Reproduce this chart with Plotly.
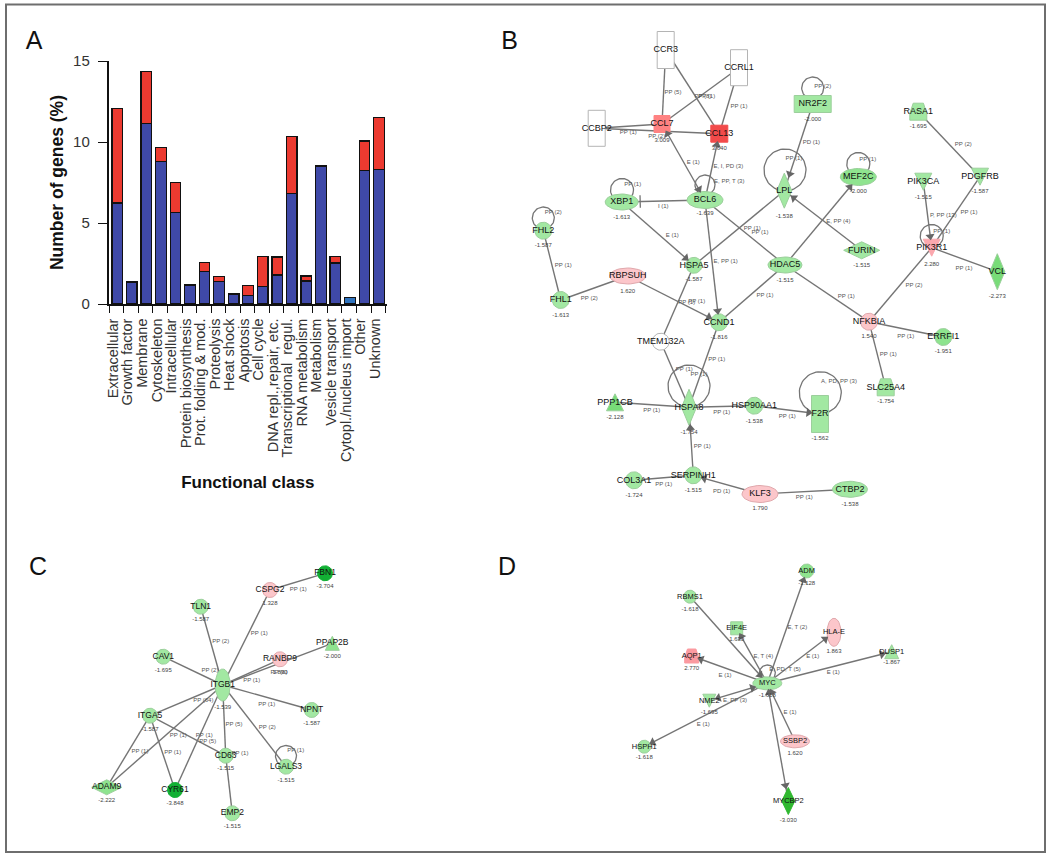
import math
import plotly.graph_objects as go

# ---------- Panel A data ----------
CLASSES = ["Extracellular", "Growth factor", "Membrane", "Cytoskeleton", "Intracellular",
           "Protein biosynthesis", "Prot. folding & mod.", "Proteolysis", "Heat shock", "Apoptosis",
           "Cell cycle", "DNA repl.,repair, etc.", "Transcriptional  regul.", "RNA metabolism",
           "Metabolism", "Vesicle transport", "Cytopl./nucleus import", "Other", "Unknown"]
LOWER_PART = [6.24, 1.36, 11.13, 8.80, 5.65, 1.17, 2.00, 1.38, 0.62, 0.54,
              1.09, 1.79, 6.82, 1.42, 8.51, 2.53, 0.41, 8.24, 8.30]
UPPER_PART = [5.83, 0, 3.21, 0.88, 1.85, 0, 0.58, 0.33, 0, 0.61,
              1.86, 1.12, 3.54, 0.31, 0, 0.42, 0, 1.82, 3.20]

# ---------- Network data: node names and their printed values ----------
B_VALUES = {"CCR3": "", "CCRL1": "", "CCBP2": "", "CCL7": "3.009", "CCL13": "3.640", "XBP1": "-1.613",
            "BCL6": "-1.639", "FHL2": "-1.587", "HSPA5": "-1.587", "LPL": "-1.538", "NR2F2": "-2.000",
            "MEF2C": "-2.000", "RASA1": "-1.695", "PDGFRB": "-1.587", "PIK3CA": "-1.515", "PIK3R1": "2.280",
            "VCL": "-2.273", "FURIN": "-1.515", "HDAC5": "-1.515", "NFKBIA": "1.540", "ERRFI1": "-1.951",
            "SLC25A4": "-1.754", "F2R": "-1.562", "HSP90AA1": "-1.538", "HSPA8": "-1.754", "PPP1CB": "-2.128",
            "TMEM132A": "", "CCND1": "-1.816", "FHL1": "-1.613", "RBPSUH": "1.620", "SERPINH1": "-1.515",
            "COL3A1": "-1.724", "KLF3": "1.790", "CTBP2": "-1.538"}
C_VALUES = {"ITGB1": "-1.539", "FBN1": "-3.704", "CSPG2": "1.328", "TLN1": "-1.587", "PPAP2B": "-2.000",
            "RANBP9": "1.890", "CAV1": "-1.695", "NPNT": "-1.587", "ITGA5": "-1.587", "CD63": "-1.515",
            "LGALS3": "-1.515", "ADAM9": "-2.222", "CYR61": "-3.848", "EMP2": "-1.515"}
D_VALUES = {"ADM": "-1.128", "RBMS1": "-1.618", "EIF4E": "1.630", "HLA-E": "1.863", "AQP1": "2.770",
            "DUSP1": "-1.867", "MYC": "-1.618", "NME2": "-1.695", "HSPH1": "-1.618", "SSBP2": "1.620",
            "MYCBP2": "-3.030"}

# Edges: (from, to, arrowhead: "" none, "b" at to, "a" at from, "ab" both, "i" inhibition at to)
B_EDGES = [("CCR3", "CCL7", ""), ("CCR3", "CCL13", ""), ("CCRL1", "CCL7", ""), ("CCRL1", "CCL13", ""),
           ("CCBP2", "CCL7", ""), ("CCBP2", "CCL13", ""), ("BCL6", "CCL7", "ab"), ("BCL6", "CCL13", "b"),
           ("BCL6", "XBP1", "i"), ("XBP1", "HSPA5", "b"), ("BCL6", "CCND1", "b"), ("HSPA5", "LPL", ""),
           ("BCL6", "HDAC5", ""), ("FHL2", "FHL1", ""), ("FHL1", "RBPSUH", ""), ("RBPSUH", "CCND1", "b"),
           ("HSPA5", "TMEM132A", ""), ("HDAC5", "CCND1", ""), ("HDAC5", "NFKBIA", ""), ("HDAC5", "MEF2C", "b"),
           ("FURIN", "LPL", "b"), ("NR2F2", "LPL", "b"), ("RASA1", "PDGFRB", ""), ("PIK3CA", "PIK3R1", "b"),
           ("PDGFRB", "PIK3R1", ""), ("PIK3R1", "VCL", ""), ("PIK3R1", "NFKBIA", ""), ("NFKBIA", "ERRFI1", ""),
           ("NFKBIA", "SLC25A4", ""), ("TMEM132A", "HSPA8", ""), ("CCND1", "HSPA8", ""), ("PPP1CB", "HSPA8", ""),
           ("HSPA8", "HSP90AA1", ""), ("HSP90AA1", "F2R", "b"), ("SERPINH1", "HSPA8", "b"),
           ("COL3A1", "SERPINH1", ""), ("KLF3", "SERPINH1", "b"), ("KLF3", "CTBP2", "")]
C_EDGES = [("CSPG2", "FBN1", ""), ("ITGB1", "CSPG2", ""), ("ITGB1", "TLN1", ""), ("ITGB1", "CAV1", ""),
           ("ITGB1", "RANBP9", ""), ("ITGB1", "PPAP2B", ""), ("ITGB1", "NPNT", ""), ("ITGB1", "LGALS3", ""),
           ("ITGB1", "CD63", ""), ("CD63", "EMP2", ""), ("ITGB1", "ITGA5", ""), ("ITGB1", "ADAM9", ""),
           ("ITGB1", "CYR61", ""), ("ITGA5", "CD63", ""), ("ITGA5", "ADAM9", ""), ("ITGA5", "CYR61", "")]
D_EDGES = [("MYC", "ADM", "b"), ("RBMS1", "MYC", "b"), ("MYC", "EIF4E", "b"), ("MYC", "HLA-E", "b"),
           ("MYC", "DUSP1", "b"), ("MYC", "AQP1", "b"), ("NME2", "MYC", "ab"), ("MYC", "HSPH1", "b"),
           ("SSBP2", "MYC", "b"), ("MYCBP2", "MYC", "ab")]

# ---------- Network drawing: layout (page pixels), shapes and styles ----------
G, P, DG, MG, W = "#a2e8a2", "#fcc6ca", "#12b034", "#78dc78", "#ffffff"
B_LAYOUT = {  # name: x, y, shape, width, height, fill, y of value label
    "CCR3": (665.7, 50, "rect", 17, 37, W, 0), "CCRL1": (739, 67.7, "rect", 17, 36, W, 0),
    "CCBP2": (596.7, 128.3, "rect", 17, 36, W, 0), "CCL7": (662, 124, "rect", 16, 17, "#ff8282", 140),
    "CCL13": (719.3, 133.7, "rect", 17, 17, "#f24a4a", 148.5), "XBP1": (621.7, 202, "ell", 33, 16, G, 217),
    "BCL6": (705, 200, "ell", 36, 17, G, 213.7), "FHL2": (543.3, 230.7, "ell", 17, 17, G, 245.7),
    "HSPA5": (694, 265.3, "ell", 16, 16, G, 279.3), "LPL": (784.3, 190.7, "dia", 15, 35, G, 216),
    "NR2F2": (812.7, 104, "rect", 37, 17, G, 119), "MEF2C": (858.3, 177, "ell", 36, 17, "#8fe48f", 191.7),
    "RASA1": (918.3, 111.7, "trap", 17, 17, G, 126.7), "PDGFRB": (980, 176.7, "inv", 17, 17, G, 191.7),
    "PIK3CA": (923.3, 181.7, "inv", 17, 17, G, 197), "PIK3R1": (931.7, 247.7, "inv", 17, 17, "#fba8ae", 264),
    "VCL": (997.3, 271.7, "dia", 15, 36, MG, 296), "FURIN": (861.7, 250.3, "dia", 36, 17, G, 265.7),
    "HDAC5": (785, 265, "ell", 34, 16, G, 280), "NFKBIA": (869, 321.7, "ell", 17, 17, P, 336),
    "ERRFI1": (943.3, 337, "ell", 17, 17, "#8ee48e", 351.7), "SLC25A4": (885.7, 387.3, "trap", 17, 17, G, 401.7),
    "F2R": (820, 414, "rect", 17, 37, G, 438.7), "HSP90AA1": (754.3, 405.7, "ell", 17, 17, G, 421),
    "HSPA8": (689, 407.3, "dia", 15, 36, G, 432.3), "PPP1CB": (615, 402.3, "tri", 17, 17, MG, 417),
    "TMEM132A": (660.7, 341.7, "ell", 17, 17, W, 0), "CCND1": (719, 322.3, "ell", 17, 17, G, 337.7),
    "FHL1": (560.7, 300, "ell", 17, 17, G, 315), "RBPSUH": (627.7, 276, "ell", 36, 16, P, 291.3),
    "SERPINH1": (693.3, 475.3, "ell", 17, 17, G, 490.7), "COL3A1": (634, 480.3, "ell", 17, 17, G, 495.7),
    "KLF3": (760, 494, "ell", 36, 17, P, 508.7), "CTBP2": (850, 489.3, "ell", 35, 16, G, 504.3)}
C_LAYOUT = {
    "ITGB1": (222.7, 685, "ell", 15, 32, G, 707.3), "FBN1": (325, 573.3, "ell", 15, 15, DG, 586),
    "CSPG2": (270, 590, "ell", 15, 15, P, 603.3), "TLN1": (200.7, 606.7, "ell", 15, 15, G, 619),
    "PPAP2B": (332.3, 643.3, "tri", 14, 14, "#8ee48e", 656), "RANBP9": (280, 659.3, "ell", 15, 15, P, 672),
    "CAV1": (163.3, 656.7, "ell", 15, 15, G, 670), "NPNT": (311.7, 710, "ell", 15, 15, G, 723.7),
    "ITGA5": (150, 715.7, "ell", 15, 15, G, 729), "CD63": (225.7, 755.7, "ell", 15, 15, G, 768.7),
    "LGALS3": (286, 766.7, "ell", 15, 15, G, 780), "ADAM9": (106.7, 787.3, "dia", 30, 15, "#8ee48e", 800.7),
    "CYR61": (175, 790, "ell", 15, 15, DG, 803), "EMP2": (232.3, 813.3, "ell", 15, 15, G, 826)}
D_LAYOUT = {
    "ADM": (806.7, 571, "ell", 14, 14, "#8ee48e", 583), "RBMS1": (690, 596.7, "ell", 13, 13, G, 609),
    "EIF4E": (736.7, 628.3, "rect", 12, 13, G, 639), "HLA-E": (834, 632.3, "ell", 14, 28, P, 651.7),
    "AQP1": (691.7, 656, "trap", 14, 14, "#fb9aa0", 668), "DUSP1": (891.7, 651.7, "tri", 14, 14, G, 662.7),
    "MYC": (767.3, 683.3, "ell", 29, 13, G, 695), "NME2": (709.3, 700.7, "inv", 13, 13, G, 712.7),
    "HSPH1": (644.3, 746.7, "ell", 13, 13, G, 757.3), "SSBP2": (795, 741.3, "ell", 29, 13, P, 753.3),
    "MYCBP2": (788.3, 801, "dia", 13, 27, "#30b830", 820)}
LOOPS = [(785, 170, 21), (820.3, 392.7, 21), (689, 386, 21), (705, 185, 10), (622, 190, 11.5),
         (543.3, 218, 11), (812.7, 88, 11), (858.3, 164, 11.5), (931.7, 236, 11.5), (286, 756, 10.5),
         (767.3, 673, 8)]
EDGE_LABELS = [
    ("PP (5)", 673, 92.3), ("PP (1)", 706.7, 96), ("PP (8)", 703, 96), ("PP (1)", 739, 106),
    ("PP (1)", 628.3, 132.7), ("PP (2)", 656.7, 136.7), ("E (1)", 693.3, 162.3), ("E, I, PD (3)", 728.3, 166.7),
    ("E, PP, T (3)", 729.3, 181.7), ("PP (1)", 632.7, 184.7), ("I (1)", 663.3, 206), ("E (1)", 672.3, 235),
    ("E, PP (1)", 725.7, 261), ("PP (1)", 752.3, 228.3), ("PP (1)", 760, 232.3), ("PP (2)", 553.3, 212.7),
    ("PP (1)", 563.3, 265.7), ("PP (2)", 589.3, 298.3), ("PP (1)", 696.7, 301.7), ("PP (1)", 686.7, 302.3),
    ("PP (1)", 765, 295), ("PP (1)", 846.3, 296), ("E, PP (4)", 838.3, 221.3), ("PP (1)", 794, 158.7),
    ("PD (1)", 811.3, 142.7), ("PP (2)", 822.7, 86), ("PP (1)", 867.7, 159), ("PP (2)", 963.3, 144.3),
    ("P, PP (13)", 943.3, 215.3), ("PP (1)", 969, 212.7), ("PP (1)", 941.7, 231), ("PP (1)", 964, 268.7),
    ("PP (2)", 914, 285), ("PP (1)", 905.7, 336), ("PP (1)", 888.3, 354), ("A, PD, PP (3)", 839, 381.7),
    ("PP (1)", 684.3, 369.3), ("PP (1)", 699, 374.3), ("PP (1)", 716.7, 359.7), ("PP (1)", 651.7, 410.7),
    ("PP (1)", 721.7, 412), ("PP (1)", 787.3, 416.7), ("PP (1)", 702.3, 446.3), ("PP (1)", 663.7, 484),
    ("PD (1)", 721.7, 491.3), ("PP (1)", 804.3, 497),
    ("PP (1)", 298.3, 589), ("PP (1)", 259.3, 633.3), ("PP (2)", 220.7, 641), ("PP (2)", 210, 670.7),
    ("PP (1)", 251.7, 680.7), ("PP (6)", 279, 672), ("PP (1)", 266.7, 704.7), ("PP (2)", 267.3, 727.3),
    ("PP (5)", 234, 724.3), ("PP (1)", 240, 753.3), ("PP (64)", 203.3, 700), ("PP (1)", 204.3, 735),
    ("PP (5)", 207.7, 741.7), ("PP (1)", 140, 751), ("PP (1)", 172.7, 752.3), ("PP (1)", 178.3, 735),
    ("PP (1)", 295.7, 750),
    ("E, T (2)", 797.3, 627.7), ("E, T (4)", 763.3, 656), ("E (1)", 812.7, 656.7), ("E (1)", 833.3, 672.3),
    ("E (1)", 725, 675), ("E, PD, T (5)", 785, 669.3), ("E, PP (3)", 735, 700.7), ("E (1)", 703.3, 724),
    ("E (1)", 790, 712.3)]
PANEL_LETTERS = [("A", 34, 43), ("B", 509.5, 42.5), ("C", 38, 569), ("D", 507, 569)]

FW, FH = 1050, 858
EDGE_COLOR = "#757575"


def outline(x, y, kind, w, h):
    a, b = w / 2, h / 2
    if kind == "ell":
        pts = [(x + a * math.cos(2 * math.pi * i / 40), y + b * math.sin(2 * math.pi * i / 40)) for i in range(41)]
    elif kind == "rect":
        pts = [(x - a, y - b), (x + a, y - b), (x + a, y + b), (x - a, y + b), (x - a, y - b)]
    elif kind == "dia":
        pts = [(x, y - b), (x + a, y), (x, y + b), (x - a, y), (x, y - b)]
    elif kind == "tri":
        pts = [(x, y - b), (x + a, y + b), (x - a, y + b), (x, y - b)]
    elif kind == "inv":
        pts = [(x - a, y - b), (x + a, y - b), (x, y + b), (x - a, y - b)]
    else:
        pts = [(x - a * .6, y - b), (x + a * .6, y - b), (x + a, y + b * .2), (x + a, y + b), (x - a, y + b),
               (x - a, y + b * .2), (x - a * .6, y - b)]
    return pts


def boundary_point(lay, ox, oy, extra):
    x, y, _, w, h = lay[:5]
    dx, dy = ox - x, oy - y
    d = math.hypot(dx, dy)
    t = 1 / math.hypot(dx / (w / 2), dy / (h / 2))
    return x + dx * t + dx / d * extra, y + dy * t + dy / d * extra, -dx, -dy


fig = go.Figure()

# Panel A bars
x_idx = list(range(len(CLASSES)))
blue = ["#3f49a8"] * len(CLASSES)
blue[16] = "#2f73bd"
fig.add_bar(x=x_idx, y=LOWER_PART, marker=dict(color=blue, line=dict(color="#111", width=1.3)),
            width=0.73, showlegend=False, hoverinfo="skip")
fig.add_bar(x=x_idx, y=UPPER_PART, marker=dict(color="#ec3a30", line=dict(color="#111", width=1.3)),
            width=0.73, showlegend=False, hoverinfo="skip")

# Networks
ALL = {**B_LAYOUT, **C_LAYOUT, **D_LAYOUT}
VALUES = {**B_VALUES, **C_VALUES, **D_VALUES}
EDGES = B_EDGES + C_EDGES + D_EDGES

ex, ey = [], []
ax, ay, aang = [], [], []
ix, iy, iang = [], [], []
for a, b, head in EDGES:
    la, lb = ALL[a], ALL[b]
    ex += [la[0], lb[0], None]
    ey += [la[1], lb[1], None]
    if "b" in head:
        px, py, dx, dy = boundary_point(lb, la[0], la[1], 3)
        ax.append(px); ay.append(py); aang.append(math.degrees(math.atan2(dx, -dy)))
    if "a" in head:
        px, py, dx, dy = boundary_point(la, lb[0], lb[1], 3)
        ax.append(px); ay.append(py); aang.append(math.degrees(math.atan2(dx, -dy)))
    if head == "i":
        px, py, dx, dy = boundary_point(lb, la[0], la[1], 2)
        ix.append(px); iy.append(py); iang.append(math.degrees(math.atan2(dx, -dy)))

fig.add_scatter(x=ex, y=ey, mode="lines", line=dict(color=EDGE_COLOR, width=1.4), xaxis="x2", yaxis="y2",
                showlegend=False, hoverinfo="skip")
lx, ly = [], []
for cx, cy, r in LOOPS:
    for i in range(61):
        lx.append(cx + r * math.cos(2 * math.pi * i / 60))
        ly.append(cy + r * math.sin(2 * math.pi * i / 60))
    lx.append(None); ly.append(None)
fig.add_scatter(x=lx, y=ly, mode="lines", line=dict(color=EDGE_COLOR, width=1.3), xaxis="x2", yaxis="y2",
                showlegend=False, hoverinfo="skip")

groups = {}
for name, lay in ALL.items():
    groups.setdefault(lay[5], []).append(lay)
for fill, lays in groups.items():
    gx, gy = [], []
    for lay in lays:
        for p in outline(*lay[:5]):
            gx.append(p[0]); gy.append(p[1])
        gx.append(None); gy.append(None)
    edge = "#b4b4b4" if fill == W else "#9ccf9c" if fill in (G, MG, "#8ee48e", "#8fe48f") else "#e0a8ac" if fill == P else fill
    fig.add_scatter(x=gx, y=gy, mode="lines", fill="toself", fillcolor=fill, line=dict(color=edge, width=1),
                    xaxis="x2", yaxis="y2", showlegend=False, hoverinfo="skip")

fig.add_scatter(x=ax, y=ay, mode="markers", xaxis="x2", yaxis="y2", showlegend=False, hoverinfo="skip",
                marker=dict(symbol="triangle-up", size=8, angle=aang, color="#666666", line=dict(width=0)))
fig.add_scatter(x=ix, y=iy, mode="markers", xaxis="x2", yaxis="y2", showlegend=False, hoverinfo="skip",
                marker=dict(symbol="line-ew", size=9, angle=iang, line=dict(color=EDGE_COLOR, width=1.3)))

fig.add_scatter(x=[t[1] for t in EDGE_LABELS], y=[t[2] for t in EDGE_LABELS], text=[t[0] for t in EDGE_LABELS],
                mode="text", textfont=dict(family="Liberation Sans", size=6, color="#555555"),
                xaxis="x2", yaxis="y2", showlegend=False, hoverinfo="skip")
val_names = [n for n in ALL if VALUES[n]]
fig.add_scatter(x=[ALL[n][0] for n in val_names], y=[ALL[n][6] for n in val_names],
                text=[VALUES[n] for n in val_names], mode="text",
                textfont=dict(family="Liberation Sans", size=6, color="#444444"),
                xaxis="x2", yaxis="y2", showlegend=False, hoverinfo="skip")
for names, size in ((list(B_LAYOUT), 9), (list(C_LAYOUT), 8.5), (list(D_LAYOUT), 7.5)):
    fig.add_scatter(x=[ALL[n][0] for n in names], y=[ALL[n][1] for n in names], text=names, mode="text",
                    textfont=dict(family="Liberation Sans", size=size, color="#111111"),
                    xaxis="x2", yaxis="y2", showlegend=False, hoverinfo="skip")
fig.add_scatter(x=[t[1] for t in PANEL_LETTERS], y=[t[2] for t in PANEL_LETTERS], text=[t[0] for t in PANEL_LETTERS],
                mode="text", textfont=dict(family="Liberation Sans Narrow, Liberation Sans", size=25, color="#111111"),
                xaxis="x2", yaxis="y2", showlegend=False, hoverinfo="skip")

fig.update_layout(
    width=FW, height=FH, margin=dict(l=0, r=0, t=0, b=0, pad=0, autoexpand=False), paper_bgcolor="white",
    plot_bgcolor="rgba(0,0,0,0)", barmode="stack", bargap=0.27, showlegend=False,
    font=dict(family="Liberation Sans", color="#222222"),
    xaxis=dict(domain=[108.5 / FW, 387 / FW], range=[-0.605, 18.55], anchor="y", showgrid=False, zeroline=False,
               automargin=False, showline=True, linecolor="#111", linewidth=1.5,
               tickmode="array", tickvals=[i - 0.28 for i in x_idx], ticktext=CLASSES, tickangle=-90,
               ticks="", ticklabelstandoff=7, tickfont=dict(size=14.5, color="#333333"),
               minor=dict(tickmode="array", tickvals=[i - 0.55 for i in x_idx + [19]], ticks="outside", ticklen=7,
                          tickwidth=1.3, tickcolor="#111", showgrid=False),
               title=dict(text="<b>Functional class</b>", font=dict(size=17, color="#111"), standoff=15)),
    yaxis=dict(domain=[1 - 304 / FH, 1 - 61 / FH], range=[0, 15], anchor="x", showgrid=False, zeroline=False,
               automargin=False, showline=True, linecolor="#111", linewidth=1.5, tickvals=[0, 5, 10, 15],
               ticks="outside", ticklen=9,
               tickwidth=1.3, tickcolor="#111", ticklabelstandoff=5, tickfont=dict(size=15, color="#333333"),
               title=dict(text="<b>Number of genes (%)</b>", font=dict(size=17.5, color="#111"), standoff=5)),
    xaxis2=dict(domain=[0, 1], range=[0, FW], visible=False, anchor="y2", automargin=False),
    yaxis2=dict(domain=[0, 1], range=[FH, 0], visible=False, anchor="x2", automargin=False),
    shapes=[dict(type="rect", xref="x2", yref="y2", x0=6, y0=4.5, x1=1045, y1=852,
                 line=dict(color="#6e6e6e", width=2), layer="below")],
)
fig.write_html("out.html", config=dict(displayModeBar=False),
               post_script="document.body.style.margin='0';document.body.style.overflow='hidden';")
